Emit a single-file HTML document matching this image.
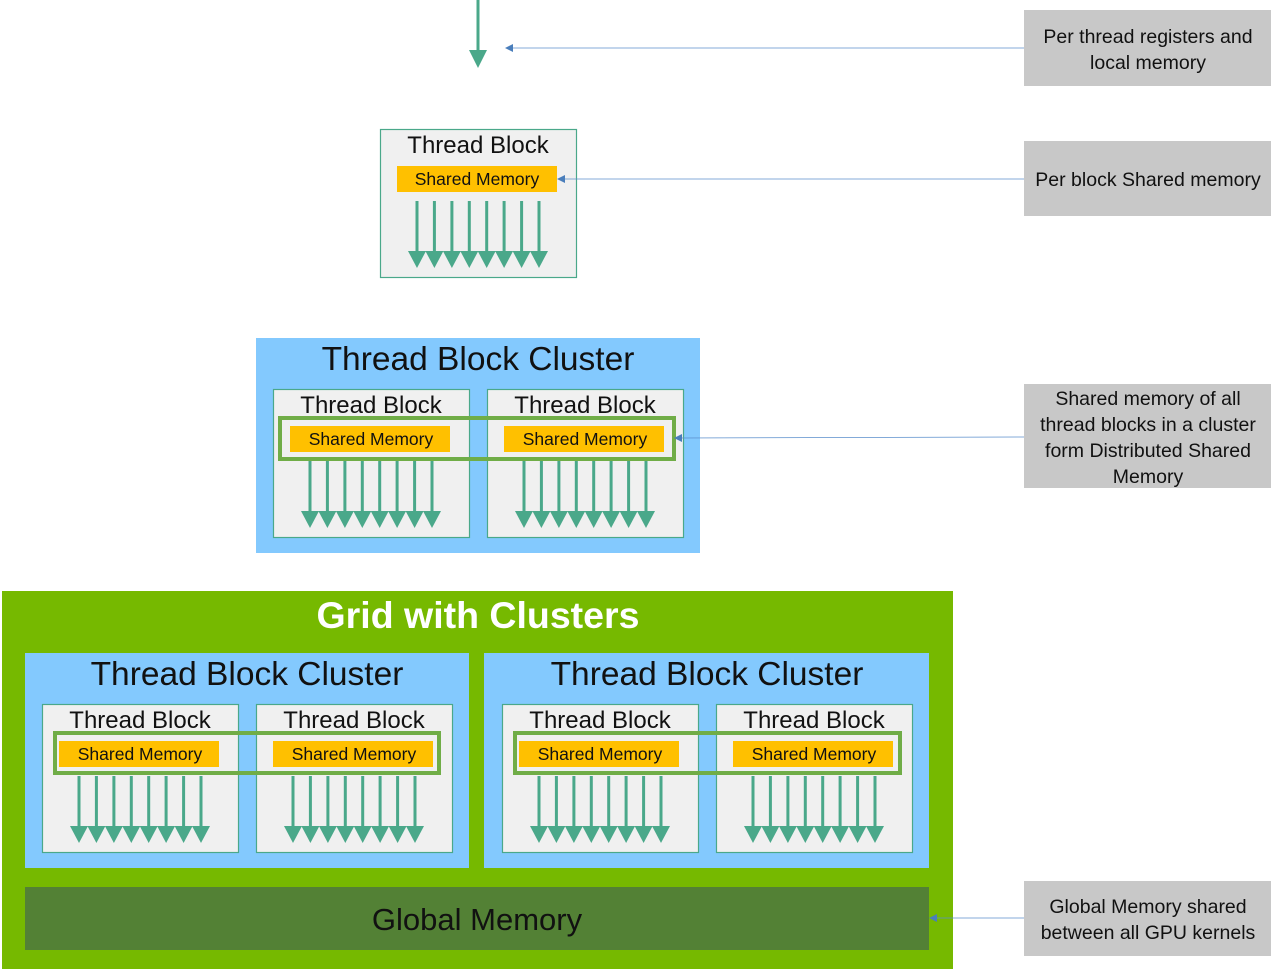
<!DOCTYPE html>
<html><head><meta charset="utf-8"><style>
html,body{margin:0;padding:0;background:#fff;}
svg{display:block;font-family:"Liberation Sans",sans-serif;}
</style></head><body>
<svg width="1276" height="969" viewBox="0 0 1276 969" xmlns="http://www.w3.org/2000/svg">
<defs>
<g id="arr">
  <g stroke="#4aa88a" stroke-width="3">
    <line x1="0" y1="0" x2="0" y2="52"/><line x1="17.4" y1="0" x2="17.4" y2="52"/>
    <line x1="34.9" y1="0" x2="34.9" y2="52"/><line x1="52.3" y1="0" x2="52.3" y2="52"/>
    <line x1="69.7" y1="0" x2="69.7" y2="52"/><line x1="87.1" y1="0" x2="87.1" y2="52"/>
    <line x1="104.6" y1="0" x2="104.6" y2="52"/><line x1="122" y1="0" x2="122" y2="52"/>
  </g>
  <g fill="#4aa88a">
    <path d="M-9 50 L9 50 L0 67Z"/><path d="M8.4 50 L26.4 50 L17.4 67Z"/>
    <path d="M25.9 50 L43.9 50 L34.9 67Z"/><path d="M43.3 50 L61.3 50 L52.3 67Z"/>
    <path d="M60.7 50 L78.7 50 L69.7 67Z"/><path d="M78.1 50 L96.1 50 L87.1 67Z"/>
    <path d="M95.6 50 L113.6 50 L104.6 67Z"/><path d="M113 50 L131 50 L122 67Z"/>
  </g>
</g>
<g id="blk">
  <rect x="0.5" y="0.5" width="196" height="148" fill="#f0f0f0" stroke="#4aa88a" stroke-width="1.2"/>
  <rect x="17" y="37" width="160" height="26" fill="#ffc000"/>
  <use href="#arr" x="37" y="72"/>
</g>
</defs>

<line x1="478" y1="0" x2="478" y2="52" stroke="#4aa88a" stroke-width="3"/>
<path d="M469 50 L487 50 L478 68Z" fill="#4aa88a"/>

<use href="#blk" x="380" y="129"/>
<g font-size="24" text-anchor="middle" fill="#111">
<text x="478" y="153">Thread Block</text>
</g>
<text x="477" y="185" font-size="17.5" text-anchor="middle" fill="#111">Shared Memory</text>

<rect x="256" y="338" width="444" height="215" fill="#83c9fe"/>
<text x="478" y="370" font-size="33.5" text-anchor="middle" fill="#111">Thread Block Cluster</text>
<use href="#blk" x="273" y="389"/><use href="#blk" x="487" y="389"/>
<text x="371" y="413" font-size="24" text-anchor="middle" fill="#111">Thread Block</text>
<text x="585" y="413" font-size="24" text-anchor="middle" fill="#111">Thread Block</text>
<text x="371" y="445" font-size="17.5" text-anchor="middle" fill="#111">Shared Memory</text>
<text x="585" y="445" font-size="17.5" text-anchor="middle" fill="#111">Shared Memory</text>
<rect x="280" y="418" width="394" height="41" fill="none" stroke="#70ad47" stroke-width="4"/>

<rect x="2" y="591" width="951" height="378" fill="#76b900"/>
<text x="478" y="628" font-size="37.5" font-weight="bold" text-anchor="middle" fill="#fff">Grid with Clusters</text>
<rect x="25" y="653" width="444" height="215" fill="#83c9fe"/>
<rect x="484" y="653" width="445" height="215" fill="#83c9fe"/>
<text x="247" y="685" font-size="33.5" text-anchor="middle" fill="#111">Thread Block Cluster</text>
<text x="707" y="685" font-size="33.5" text-anchor="middle" fill="#111">Thread Block Cluster</text>
<use href="#blk" x="42" y="704"/><use href="#blk" x="256" y="704"/>
<use href="#blk" x="502" y="704"/><use href="#blk" x="716" y="704"/>
<g font-size="24" text-anchor="middle" fill="#111">
<text x="140" y="728">Thread Block</text>
<text x="354" y="728">Thread Block</text>
<text x="600" y="728">Thread Block</text>
<text x="814" y="728">Thread Block</text>
</g>
<g font-size="17.5" text-anchor="middle" fill="#111">
<text x="140" y="760">Shared Memory</text>
<text x="354" y="760">Shared Memory</text>
<text x="600" y="760">Shared Memory</text>
<text x="814" y="760">Shared Memory</text>
</g>
<rect x="55" y="733" width="384" height="40" fill="none" stroke="#70ad47" stroke-width="4"/>
<rect x="515" y="733" width="385" height="40" fill="none" stroke="#70ad47" stroke-width="4"/>
<rect x="25" y="887" width="904" height="63" fill="#538135"/>
<text x="477" y="930" font-size="31" text-anchor="middle" fill="#111">Global Memory</text>

<g fill="#c8c8c8">
<rect x="1024" y="10" width="247" height="76"/>
<rect x="1024" y="141" width="247" height="75"/>
<rect x="1024" y="384" width="247" height="104"/>
<rect x="1024" y="881" width="247" height="75"/>
</g>
<g font-size="19.5" text-anchor="middle" fill="#111">
<text x="1148" y="43">Per thread registers and</text>
<text x="1148" y="69">local memory</text>
<text x="1148" y="186">Per block Shared memory</text>
<text x="1148" y="405">Shared memory of all</text>
<text x="1148" y="431">thread blocks in a cluster</text>
<text x="1148" y="457">form Distributed Shared</text>
<text x="1148" y="483">Memory</text>
<text x="1148" y="913">Global Memory shared</text>
<text x="1148" y="939">between all GPU kernels</text>
</g>

<g stroke="#5b8fcc" stroke-width="0.8">
<line x1="1024" y1="48" x2="510" y2="48"/>
<line x1="1024" y1="179" x2="562" y2="179"/>
<line x1="1024" y1="437" x2="679" y2="438"/>
<line x1="1024" y1="918" x2="934" y2="918"/>
</g>
<g fill="#4a7ebb">
<path d="M505 48 L513 44 L513 52Z"/>
<path d="M557 179 L565 175 L565 183Z"/>
<path d="M674 438 L682 434 L682 442Z"/>
<path d="M929 918 L937 914 L937 922Z"/>
</g>
</svg>
</body></html>
